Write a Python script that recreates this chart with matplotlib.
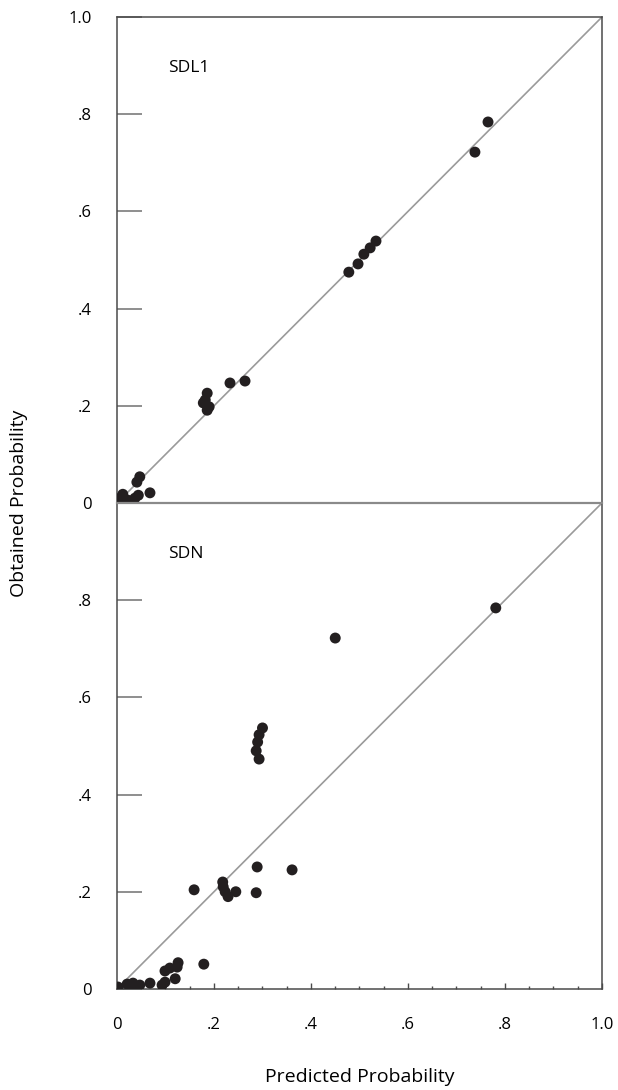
import matplotlib
matplotlib.use("Agg")
import matplotlib.pyplot as plt
from matplotlib.ticker import MultipleLocator

plt.rcParams['font.family'] = ['Open Sans', 'DejaVu Sans']

# SDL1 model: predicted vs obtained
sdl1_pred = [0.765, 0.738, 0.478, 0.497, 0.509, 0.522, 0.534, 0.233, 0.264,
             0.186, 0.182, 0.178, 0.186, 0.19, 0.047, 0.041, 0.068, 0.044,
             0.037, 0.010, 0.006, 0.016, 0.0, 0.012, 0.004, 0.022]
sdl1_obt = [0.784, 0.722, 0.475, 0.492, 0.512, 0.525, 0.539, 0.247, 0.251,
            0.226, 0.212, 0.206, 0.191, 0.198, 0.054, 0.043, 0.021, 0.016,
            0.010, 0.013, 0.003, 0.0, 0.0, 0.018, 0.008, 0.006]

# SDN model: predicted vs obtained
sdn_pred = [0.781, 0.45, 0.300, 0.293, 0.290, 0.287, 0.293, 0.289, 0.361,
            0.287, 0.159, 0.218, 0.219, 0.223, 0.229, 0.245, 0.179, 0.126,
            0.124, 0.109, 0.099, 0.120, 0.099, 0.093, 0.068, 0.047, 0.033,
            0.021, 0.002, 0.040, 0.028]
sdn_obt = [0.784, 0.722, 0.537, 0.523, 0.508, 0.490, 0.473, 0.251, 0.245,
           0.198, 0.204, 0.220, 0.210, 0.200, 0.190, 0.200, 0.051, 0.054,
           0.045, 0.043, 0.037, 0.021, 0.014, 0.008, 0.012, 0.008, 0.012,
           0.010, 0.004, 0.004, 0.005]

x_ticks = [0, 0.2, 0.4, 0.6, 0.8, 1.0]
x_labels = ['0', '.2', '.4', '.6', '.8', '1.0']
top_y_ticks = [0, 0.2, 0.4, 0.6, 0.8, 1.0]
top_y_labels = ['0', '.2', '.4', '.6', '.8', '1.0']
bot_y_ticks = [0, 0.2, 0.4, 0.6, 0.8]
bot_y_labels = ['0', '.2', '.4', '.6', '.8']

dot = '#231f20'
frame = '#4a4a4a'
diag = '#9a9a9a'

fig = plt.figure(figsize=(6.18, 10.9), dpi=100)
ax_top = fig.add_axes([0.1893, 0.5385, 0.7848, 0.4459])
ax_bot = fig.add_axes([0.1893, 0.0927, 0.7848, 0.4459])

panels = [(ax_top, sdl1_pred, sdl1_obt, 'SDL1', top_y_ticks, top_y_labels),
          (ax_bot, sdn_pred, sdn_obt, 'SDN', bot_y_ticks, bot_y_labels)]

for ax, px, py, name, yt, yl in panels:
    ax.plot([0, 1], [0, 1], color=diag, lw=1.2, zorder=1)
    ax.scatter(px, py, s=62, color=dot, edgecolors='none', zorder=3)
    ax.set_xlim(0, 1)
    ax.set_ylim(0, 1)
    for sp in ax.spines.values():
        sp.set_color(frame)
        sp.set_linewidth(1.1)
    ax.set_yticks(yt)
    ax.set_yticklabels(yl, fontsize=12)
    ax.tick_params(axis='y', direction='in', length=18, width=1.1,
                   color='#707070', pad=18)
    ax.text(0.105, 0.895, name, fontsize=12.5, transform=ax.transAxes,
            va='center', ha='left')

ax_top.spines['bottom'].set_visible(False)
ax_top.tick_params(axis='x', bottom=False, labelbottom=False)
ax_bot.spines['top'].set_color('#8a8a8a')
ax_bot.spines['top'].set_linewidth(1.6)

ax_bot.set_xticks(x_ticks)
ax_bot.set_xticklabels(x_labels, fontsize=12)
ax_bot.xaxis.set_minor_locator(MultipleLocator(0.05))
ax_bot.tick_params(axis='x', which='major', direction='in', length=4,
                   width=1.0, color=frame, pad=20)
ax_bot.tick_params(axis='x', which='minor', direction='in', length=2.5,
                   width=1.0, color=frame)

fig.text(0.03, 0.5385, 'Obtained Probability', rotation=90, fontsize=14,
         ha='center', va='center')
fig.text(0.582, 0.012, 'Predicted Probability', fontsize=14,
         ha='center', va='center')

fig.savefig('out.png', dpi=100)
